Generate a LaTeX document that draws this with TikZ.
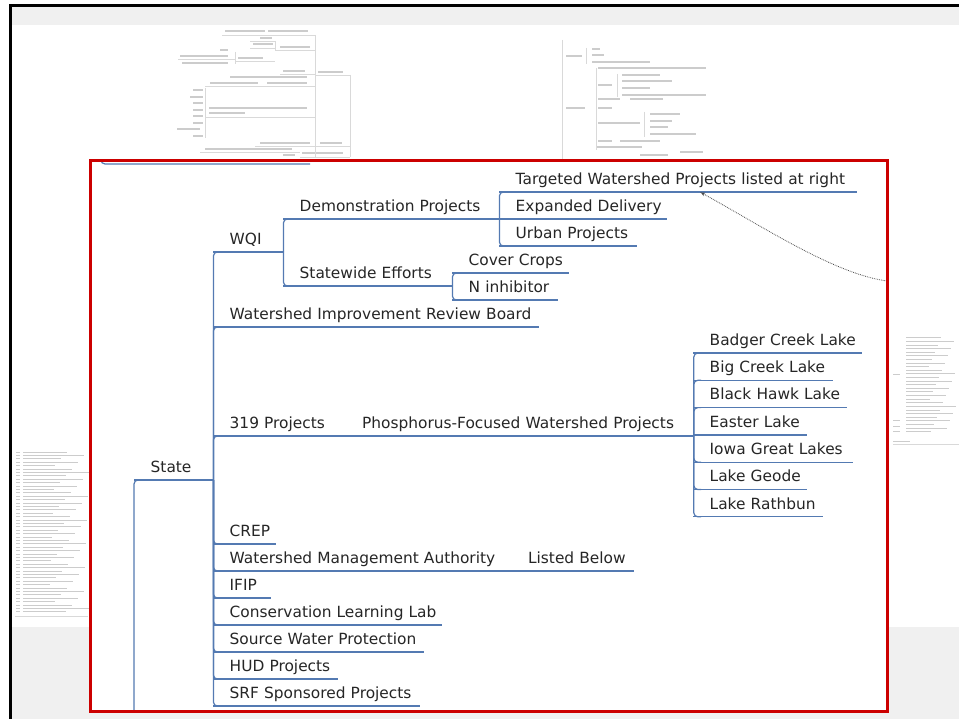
\documentclass[tikz,border=0pt]{standalone}
\usepackage{fontspec}
\setmainfont{DejaVu Sans}
\usetikzlibrary{positioning}
\usetikzlibrary{arrows,calc}
\definecolor{mapblue}{RGB}{84,122,178}
\definecolor{maptext}{RGB}{38,38,38}
\definecolor{framered}{RGB}{204,0,0}
\definecolor{panelgray}{RGB}{240,240,240}
\tikzset{branch/.style={draw=mapblue, line width=1.2pt, rounded corners=4pt}}
\tikzset{relation/.style={draw=black!70, densely dotted, line width=0.8pt, -latex'}}
\tikzset{ghost/.style={draw=black!20, line width=1.5pt}}
\tikzset{ghostline/.style={draw=black!15, line width=0.5pt}}

\begin{document}
\begin{tikzpicture}[x=1pt, y=-1pt]
\tikzstyle{topic} = [anchor=south west, inner xsep=0pt, inner ysep=7.5pt, text depth=0pt, align=left, text=maptext, font=\fontsize{15.4}{18}\selectfont, execute at begin node={\hbox\bgroup\hspace*{16.5pt}}, execute at end node={\egroup}]
\useasboundingbox (0,0) rectangle (959,719);

% screen
    \fill [white] (0,0) rectangle (959,719);
    \fill [panelgray] (12,7) rectangle (959,25);
    \fill [panelgray] (12,627) rectangle (959,719);
    \draw [black, line width=3pt] (10.5,719) -- (10.5,5.5) -- (959,5.5);

% faded maps around the frame
    \foreach \xa/\xb/\y in {225/265/31, 268/308/31, 260/272/38, 253/273/44, 280/310/47, 220/228/50, 180/228/56, 182/228/63, 238/263/58, 283/305/71, 318/343/72, 230/307/77, 210/258/83, 267/307/83, 193/203/90, 190/203/97, 193/203/103, 193/203/110, 193/203/116, 193/203/123, 177/200/129, 193/203/136, 209/307/108, 209/245/113, 260/310/143, 320/342/143, 205/292/149, 283/295/155, 302/343/153}
        \draw [ghost] (\xa,\y) -- (\xb,\y);
    \foreach \xa/\xb/\y in {222/315/35, 250/275/41, 250/275/48, 275/315/50, 178/235/59, 235/275/61, 280/315/74, 315/350/75, 205/315/86, 205/315/117, 255/315/146, 315/350/146, 200/300/152, 300/350/157}
        \draw [ghostline] (\xa,\y) -- (\xb,\y);
    \foreach \x/\ya/\yb in {315/35/157, 350/75/157, 275/41/50, 235/52/64, 205/88/138}
        \draw [ghostline] (\x,\ya) -- (\x,\yb);
    \foreach \xa/\xb/\y in {566/582/56, 592/600/49, 592/604/55, 592/650/62, 598/706/68, 598/612/85, 622/660/75, 622/672/81, 622/650/88, 622/706/95, 598/620/99, 630/663/99, 566/585/108, 598/612/108, 598/640/123, 650/680/114, 650/672/121, 650/668/127, 650/696/134, 598/612/141, 620/660/141, 597/642/147, 640/668/155, 680/703/152}
        \draw [ghost] (\xa,\y) -- (\xb,\y);
    \foreach \x/\ya/\yb in {562/40/160, 586/48/64, 596/68/150, 617/74/97, 644/112/137}
        \draw [ghostline] (\x,\ya) -- (\x,\yb);
    \foreach \y [count=\i] in {452,455.4,...,612} {
        \draw [ghost, line width=1pt] (16,\y) -- (20,\y);
        \draw [ghost, line width=1pt] (23,\y) -- ({50+mod(\i*17,40)},\y);
    }
    \draw [ghostline] (15,616) -- (88,616);
    \foreach \y [count=\i] in {338,341.6,...,432}
        \draw [ghost, line width=1pt] (906,\y) -- ({928+mod(\i*13,29)},\y);
    \foreach \y in {375,420,426,431}
        \draw [ghost, line width=1pt] (893,\y) -- (900,\y);
    \draw [ghost, line width=1pt] (893,441) -- (910,441);
    \draw [ghostline] (893,444) -- (959,444);

% frame
    \fill [white] (90,161) rectangle (887.5,711.5);
    \draw [branch] (101,160) |- (310,164);

% topics
    \node [topic, text width=79pt] (state) at (134,480) {State};
    \node [topic, text width=70pt] (wqi) at (213,252) {WQI};
    \node [topic, text width=216pt] (demo) at (283,219) {Demonstration Projects};
    \node [topic, text width=169pt] (statewide) at (283,286) {Statewide Efforts};
    \node [topic, text width=358pt] (targeted) at (499,192) {Targeted Watershed Projects listed at right};
    \node [topic, text width=168pt] (expanded) at (499,219) {Expanded Delivery};
    \node [topic, text width=138pt] (urban) at (499,246) {Urban Projects};
    \node [topic, text width=117pt] (cover) at (452,273) {Cover Crops};
    \node [topic, text width=106pt] (ninhib) at (452,300) {N inhibitor};
    \node [topic, text width=326pt] (board) at (213,327) {Watershed Improvement Review Board};
    \node [topic, text width=132pt] (p319) at (213,436) {319 Projects};
    \node [topic, text width=348pt, right=0pt of p319.south east, anchor=south west] (phos) {Phosphorus-Focused Watershed Projects};
    \node [topic, text width=169pt] (badger) at (693,353) {Badger Creek Lake};
    \node [topic, text width=140pt, below=27.3pt of badger.south west, anchor=south west] (bigcreek) {Big Creek Lake};
    \node [topic, text width=154pt, below=27.3pt of bigcreek.south west, anchor=south west] (blackhawk) {Black Hawk Lake};
    \node [topic, text width=114pt, below=27.3pt of blackhawk.south west, anchor=south west] (easter) {Easter Lake};
    \node [topic, text width=160pt, below=27.3pt of easter.south west, anchor=south west] (iowa) {Iowa Great Lakes};
    \node [topic, text width=114pt, below=27.3pt of iowa.south west, anchor=south west] (geode) {Lake Geode};
    \node [topic, text width=130pt, below=27.3pt of geode.south west, anchor=south west] (rathbun) {Lake Rathbun};
    \node [topic, text width=63pt] (crep) at (213,544) {CREP};
    \node [topic, text width=298pt, below=27pt of crep.south west, anchor=south west] (wma) {Watershed Management Authority};
    \node [topic, text width=122pt, right=0pt of wma.south east, anchor=south west] (listed) {Listed Below};
    \node [topic, text width=58pt, below=27pt of wma.south west, anchor=south west] (ifip) {IFIP};
    \node [topic, text width=229pt, below=27pt of ifip.south west, anchor=south west] (cll) {Conservation Learning Lab};
    \node [topic, text width=211pt, below=27pt of cll.south west, anchor=south west] (swp) {Source Water Protection};
    \node [topic, text width=125pt, below=27pt of swp.south west, anchor=south west] (hud) {HUD Projects};
    \node [topic, text width=207pt, below=27pt of hud.south west, anchor=south west] (srf) {SRF Sponsored Projects};
    \coordinate (trunk) at (134,712);
    \coordinate (rel) at (887,281);

% branches
    \foreach \n in {state,wqi,demo,statewide,targeted,expanded,urban,cover,ninhib,board,p319,phos,badger,bigcreek,blackhawk,easter,iowa,geode,rathbun,crep,wma,listed,ifip,cll,swp,hud,srf}
        \draw [branch] (\n.south west) -- (\n.south east);
    \draw [branch] (trunk) |- ([xshift=8pt]state.south west);
    \foreach \n in {wqi,board,p319,crep,wma,ifip,cll,swp,hud,srf}
        \draw [branch] (state.south east) |- ([xshift=8pt]\n.south west);
    \foreach \n in {demo,statewide}
        \draw [branch] (wqi.south east) |- ([xshift=8pt]\n.south west);
    \foreach \n in {targeted,urban}
        \draw [branch] (demo.south east) |- ([xshift=8pt]\n.south west);
    \foreach \n in {cover,ninhib}
        \draw [branch] (statewide.south east) |- ([xshift=8pt]\n.south west);
    \foreach \n in {badger,bigcreek,blackhawk,iowa,geode,rathbun}
        \draw [branch] (phos.south east) |- ([xshift=8pt]\n.south west);
    \draw [relation] (rel) .. controls (835,274) and (765,228) .. ([xshift=201pt]targeted.south west);

    \draw [framered, line width=3pt] (90,161) rectangle (887.5,711.5);
\end{tikzpicture}
\end{document}
